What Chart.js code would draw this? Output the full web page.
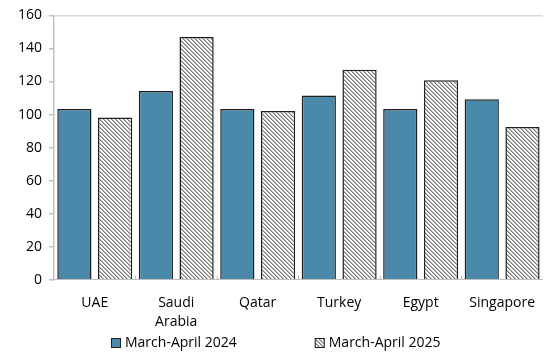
<!DOCTYPE html>
<html>
<head>
<meta charset="utf-8">
<script src="https://cdn.jsdelivr.net/npm/chart.js@4"></script>
<style>
  html, body { margin: 0; padding: 0; background: #fff; }
  #wrap { width: 548px; height: 353px; }
</style>
</head>
<body>
<div id="wrap"><canvas id="visitors-chart"></canvas></div>
<script>
const countries = ['UAE', ['Saudi', 'Arabia'], 'Qatar', 'Turkey', 'Egypt', 'Singapore'];
const period2024 = [103.4, 114.3, 103.4, 111.5, 103.4, 109.3];
const period2025 = [98.2, 147, 102.2, 127.1, 120.8, 92.5];
const seriesNames = ['March-April 2024', 'March-April 2025'];

const fontFamily = "'Open Sans', 'Noto Sans', sans-serif";

// fine diagonal hatch for the second series
function hatch() {
    const c = document.createElement('canvas');
    c.width = 4;
    c.height = 4;
    const g = c.getContext('2d');
    g.fillStyle = '#fafafa';
    g.fillRect(0, 0, 4, 4);
    for (let i = 0; i < 4; i++) {
        g.fillStyle = '#7a7a7a';
        g.fillRect(i, i, 1, 1);
        g.fillStyle = '#b4b4b4';
        g.fillRect((i + 1) % 4, i, 1, 1);
    }
    return g.createPattern(c, 'repeat');
}

// small upward ticks between the categories
const innerTicks = {
    id: 'innerTicks',
    afterDatasetsDraw(chart) {
        const { ctx, chartArea } = chart;
        const step = (chartArea.right - chartArea.left) / countries.length;
        ctx.save();
        ctx.strokeStyle = '#bfbfbf';
        ctx.lineWidth = 1;
        ctx.beginPath();
        for (let i = 1; i < countries.length; i++) {
            const px = Math.round(chartArea.left + step * i) + 0.5;
            ctx.moveTo(px, chartArea.bottom);
            ctx.lineTo(px, chartArea.bottom - 4);
        }
        ctx.stroke();
        ctx.restore();
    }
};

// legend row under the axis labels, with a wide gap between the entries
const bottomLegend = {
    id: 'bottomLegend',
    afterDraw(chart) {
        const { ctx, width, height } = chart;
        const sets = chart.data.datasets;
        const box = 10, gap = 4, between = 78;
        ctx.save();
        ctx.font = '14px ' + fontFamily;
        ctx.textBaseline = 'middle';
        const widths = sets.map(d => box + gap + ctx.measureText(d.label).width);
        const total = widths.reduce((a, b) => a + b, 0) + between * (sets.length - 1);
        let x = Math.round(width / 2 + 2 - total / 2);
        const cy = height - 10;
        sets.forEach((d, i) => {
            ctx.fillStyle = d.backgroundColor;
            ctx.fillRect(x, cy - box / 2, box, box);
            ctx.strokeStyle = d.borderColor;
            ctx.lineWidth = 1;
            ctx.strokeRect(x + 0.5, cy - box / 2 + 0.5, box - 1, box - 1);
            ctx.fillStyle = '#000';
            ctx.fillText(d.label, x + box + gap, cy);
            x += widths[i] + between;
        });
        ctx.restore();
    }
};

new Chart(document.getElementById('visitors-chart'), {
    type: 'bar',
    data: {
        labels: countries,
        datasets: [{
            label: seriesNames[0],
            data: period2024,
            backgroundColor: '#4a89aa',
            borderColor: '#1f1f1f',
            borderWidth: 1.5,
            borderSkipped: 'bottom'
        }, {
            label: seriesNames[1],
            data: period2025,
            backgroundColor: hatch(),
            borderColor: '#1f1f1f',
            borderWidth: 1.5,
            borderSkipped: 'bottom'
        }]
    },
    options: {
        responsive: true,
        maintainAspectRatio: false,
        animation: false,
        categoryPercentage: 1.0,
        barPercentage: 0.84,
        layout: { padding: { left: 11, top: 7, right: 0, bottom: 8 } },
        plugins: {
            tooltip: { enabled: false },
            legend: { display: false }
        },
        scales: {
            x: {
                grid: { display: false, drawTicks: false },
                border: { color: '#bfbfbf', width: 1 },
                ticks: {
                    color: '#000',
                    font: { family: fontFamily, size: 14, lineHeight: 1.4 },
                    padding: 13,
                    maxRotation: 0
                }
            },
            y: {
                min: 0,
                max: 160,
                ticks: {
                    stepSize: 20,
                    color: '#000',
                    font: { family: fontFamily, size: 14 },
                    padding: 7
                },
                grid: {
                    color: ctx => ctx.tick && ctx.tick.value === 160 ? '#d9d9d9' : 'rgba(0,0,0,0)',
                    tickColor: '#bfbfbf',
                    tickLength: 5,
                    lineWidth: 1.5
                },
                border: { color: '#bfbfbf', width: 1.5 }
            }
        }
    },
    plugins: [innerTicks, bottomLegend]
});
</script>
</body>
</html>
